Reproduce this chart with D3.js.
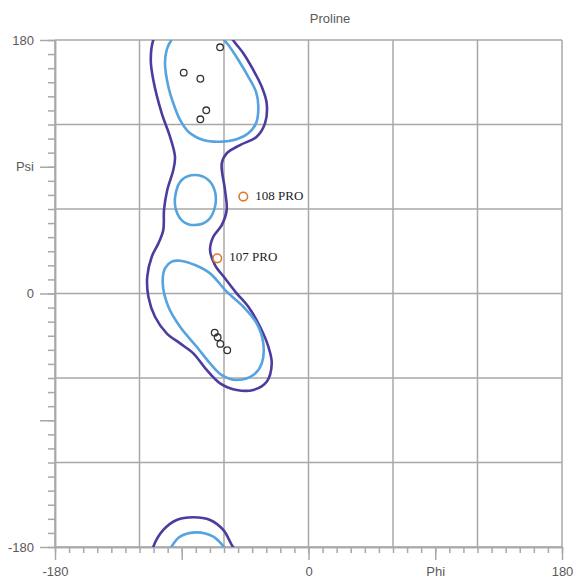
<!DOCTYPE html>
<html>
<head>
<meta charset="utf-8">
<script src="https://cdn.jsdelivr.net/npm/d3@7"></script>
<style>
  html, body { margin: 0; padding: 0; background: #fff; }
  svg { display: block; }
</style>
</head>
<body>
<svg id="chart" width="580" height="582"></svg>
<script>
// ---- data (degrees: [phi, psi]) ----
const title = "Proline";
const axisDomain = [-180, 180];
const gridValues = [-180, -120, -60, 0, 60, 120, 180];
const majorTicks = [-180, -90, 0, 90, 180];
const xMajorLabels = ["-180", "", "0", "Phi", "180"];
const yMajorLabels = ["-180", "", "0", "Psi", "180"];

// outer (dark) contour around the beta / alpha region; psi > 180 wraps to the bottom
const outerContour = [
  [-110.2, 180], [-112.0, 165.8], [-110.2, 151.6], [-104.2, 127.9], [-98.3, 111.3],
  [-94.8, 97.1], [-96.0, 87.7], [-100.3, 73.5], [-102.6, 59.3], [-103.1, 45.1],
  [-106.6, 35.6], [-111.3, 26.1], [-114.5, 11.9], [-113.7, -2.3], [-109.0, -16.5],
  [-100.7, -28.3], [-91.2, -35.4], [-81.8, -42.5], [-72.3, -54.3], [-62.8, -63.8],
  [-51.0, -68.5], [-39.2, -68.5], [-29.7, -62.6], [-26.1, -49.6], [-28.5, -37.8],
  [-34.4, -23.6], [-42.7, -9.4], [-51.0, 0.1], [-59.3, 10.8], [-66.4, 20.2],
  [-69.9, 30.9], [-67.6, 40.3], [-61.6, 48.6], [-58.1, 59.3], [-59.3, 73.5],
  [-61.6, 92.4], [-58.1, 99.5], [-48.6, 105.4], [-36.8, 111.3], [-30.9, 120.8],
  [-29.7, 135.1], [-33.2, 146.8], [-39.2, 158.7], [-46.3, 170.6], [-53.6, 180],
  [-60.5, 192.1], [-69.9, 199.2], [-81.8, 201.1], [-93.6, 199.2], [-103.1, 192.1]
];
// inner (light) contours
const innerBeta = [
  [-97.4, 180], [-100.7, 172.9], [-101.9, 163.5], [-99.5, 146.8], [-96.0, 135.1],
  [-91.2, 123.2], [-85.3, 114.9], [-74.7, 109.0], [-62.8, 107.8], [-51.0, 109.5],
  [-42.7, 113.7], [-37.3, 120.8], [-35.6, 132.6], [-37.3, 143.3], [-42.7, 153.9],
  [-49.8, 165.8], [-56.9, 176.4], [-59.9, 180], [-67.6, 187.3], [-79.4, 190.4],
  [-91.2, 187.3]
];
const innerMid = [
  [-80.6, 84.1], [-71.1, 80.6], [-66.4, 72.3], [-66.4, 61.6], [-71.1, 52.2],
  [-80.6, 48.6], [-88.9, 51.0], [-94.1, 59.3], [-94.3, 71.1], [-90.0, 80.6]
];
const innerAlpha = [
  [-91.2, 23.3], [-80.6, 20.2], [-69.9, 14.3], [-58.1, 1.3], [-46.3, -9.4],
  [-36.8, -21.2], [-32.1, -35.4], [-33.2, -49.6], [-39.2, -57.9], [-51.0, -61.4],
  [-61.6, -57.9], [-69.9, -49.6], [-79.4, -37.8], [-91.2, -23.6], [-99.5, -9.4],
  [-103.5, 7.2], [-101.9, 17.9], [-97.1, 22.6]
];
// residues
const residuePoints = [
  [-62.8, 174.8], [-88.6, 156.8], [-76.8, 152.5], [-72.6, 130.1], [-76.8, 123.7],
  [-66.6, -27.8], [-64.5, -31.1], [-62.6, -35.8], [-57.7, -40.3]
];
const outlierNames = ["108 PRO", "107 PRO"];
const outlierPhi = [-46.3, -64.8];
const outlierPsi = [68.8, 25.0];

// ---- drawing ----
const svg = d3.select("#chart");
const L = 55, R = 562, T = 40, B = 547;
const x = d3.scaleLinear().domain(axisDomain).range([L, R]);
const y = d3.scaleLinear().domain(axisDomain).range([B, T]);
const gridColor = "#a8a8a8";
const textColor = "#5a5a5a";

svg.append("defs").append("clipPath").attr("id", "plotclip")
  .append("rect").attr("x", L).attr("y", T).attr("width", R - L).attr("height", B - T);

// grid
const grid = svg.append("g");
grid.selectAll("line.v").data(gridValues).enter().append("line")
  .attr("x1", d => x(d)).attr("x2", d => x(d)).attr("y1", T).attr("y2", B)
  .attr("stroke", gridColor).attr("stroke-width", 1.5);
grid.selectAll("line.h").data(gridValues).enter().append("line")
  .attr("y1", d => y(d)).attr("y2", d => y(d)).attr("x1", L).attr("x2", R)
  .attr("stroke", gridColor).attr("stroke-width", 1.5);

// axes
const minorVals = d3.range(-180, 181, 10);
function styleAxis(g) {
  g.select(".domain").attr("stroke", gridColor).attr("stroke-width", 1.5);
  g.selectAll(".tick line").attr("stroke", gridColor).attr("stroke-width", 1.5);
  g.selectAll(".tick text").attr("fill", textColor)
    .style("font-family", "'Liberation Sans', Arial, sans-serif").style("font-size", "13px");
}
const xMinor = svg.append("g").attr("transform", `translate(0,${B})`)
  .call(d3.axisBottom(x).tickValues(minorVals).tickSize(6).tickFormat("").tickSizeOuter(0));
styleAxis(xMinor);
const xMajor = svg.append("g").attr("transform", `translate(0,${B})`)
  .call(d3.axisBottom(x).tickValues(majorTicks).tickSize(13).tickPadding(7).tickSizeOuter(0)
    .tickFormat((d, i) => xMajorLabels[i]));
styleAxis(xMajor);
const yMinor = svg.append("g").attr("transform", `translate(${L},0)`)
  .call(d3.axisLeft(y).tickValues(minorVals).tickSize(7).tickFormat("").tickSizeOuter(0));
styleAxis(yMinor);
const yMajor = svg.append("g").attr("transform", `translate(${L},0)`)
  .call(d3.axisLeft(y).tickValues(majorTicks).tickSize(15).tickPadding(6).tickSizeOuter(0)
    .tickFormat((d, i) => yMajorLabels[i]));
styleAxis(yMajor);

// title
svg.append("text").attr("x", 330).attr("y", 20).attr("text-anchor", "middle")
  .attr("dominant-baseline", "middle").attr("fill", textColor)
  .style("font-family", "'Liberation Sans', Arial, sans-serif").style("font-size", "13px")
  .text(title);

// contours
const cont = svg.append("g").attr("clip-path", "url(#plotclip)");
const line = d3.line().x(d => x(d[0])).y(d => y(d[1])).curve(d3.curveCatmullRomClosed.alpha(0.5));
const yShift = d => y(d[1] - 360);
const lineShift = d3.line().x(d => x(d[0])).y(yShift).curve(d3.curveCatmullRomClosed.alpha(0.5));
const contours = [
  { pts: outerContour, color: "#4b3c9e", wrap: true },
  { pts: innerBeta, color: "#55a3df", wrap: true },
  { pts: innerMid, color: "#55a3df", wrap: false },
  { pts: innerAlpha, color: "#55a3df", wrap: false }
];
contours.forEach(c => {
  cont.append("path").attr("d", line(c.pts)).attr("fill", "none")
    .attr("stroke", c.color).attr("stroke-width", 2.6);
  if (c.wrap) {
    cont.append("path").attr("d", lineShift(c.pts)).attr("fill", "none")
      .attr("stroke", c.color).attr("stroke-width", 2.6);
  }
});

// residues
svg.append("g").selectAll("circle").data(residuePoints).enter().append("circle")
  .attr("cx", d => x(d[0])).attr("cy", d => y(d[1])).attr("r", 3.3)
  .attr("fill", "none").attr("stroke", "#333").attr("stroke-width", 1.3);

const out = svg.append("g").selectAll("g").data(outlierNames).enter().append("g");
out.append("circle")
  .attr("cx", (d, i) => x(outlierPhi[i])).attr("cy", (d, i) => y(outlierPsi[i])).attr("r", 4.3)
  .attr("fill", "none").attr("stroke", "#e0782c").attr("stroke-width", 1.6);
out.append("text")
  .attr("x", (d, i) => x(outlierPhi[i]) + 12).attr("y", (d, i) => y(outlierPsi[i]))
  .attr("dominant-baseline", "middle").attr("fill", "#222")
  .style("font-family", "'Liberation Serif', 'Times New Roman', serif").style("font-size", "13px")
  .text(d => d);
</script>
</body>
</html>
